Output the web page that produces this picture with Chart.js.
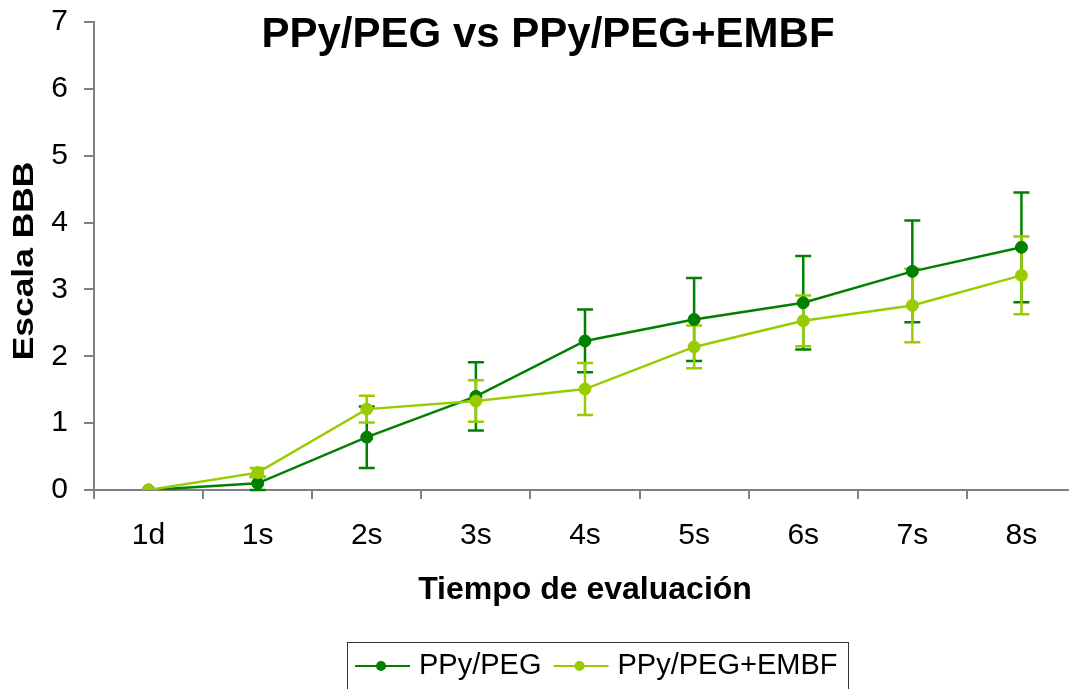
<!DOCTYPE html>
<html>
<head>
<meta charset="utf-8">
<script src="https://cdn.jsdelivr.net/npm/chart.js@4/dist/chart.umd.min.js"></script>
<style>
  html, body { margin: 0; padding: 0; background: #fff; overflow: hidden; }
  canvas { display: block; }
</style>
</head>
<body>
<canvas id="chart" width="1083" height="689"></canvas>
<script>
// data
const categories = ['1d', '1s', '2s', '3s', '4s', '5s', '6s', '7s', '8s'];
const pegValues = [0, 0.10, 0.79, 1.40, 2.23, 2.55, 2.80, 3.27, 3.63];
const pegErrors = [0, 0.10, 0.46, 0.51, 0.47, 0.62, 0.70, 0.76, 0.82];
const embfValues = [0, 0.26, 1.21, 1.33, 1.51, 2.14, 2.53, 2.76, 3.21];
const embfErrors = [0, 0.07, 0.20, 0.31, 0.39, 0.32, 0.38, 0.55, 0.58];
const yTicks = [0, 1, 2, 3, 4, 5, 6, 7];

const FONT = '"Liberation Sans", Arial, sans-serif';
const DARK = '#008000';
const LIGHT = '#99cc00';
const AXIS = '#808080';

Chart.defaults.font.family = FONT;
Chart.defaults.color = '#000';

// vertical error bars with caps, drawn under the lines
const errorBars = {
  id: 'errorBars',
  beforeDatasetsDraw(chart) {
    const ctx = chart.ctx;
    const xs = chart.scales.x, ys = chart.scales.y;
    chart.data.datasets.forEach(ds => {
      ctx.save();
      ctx.strokeStyle = ds.borderColor;
      ctx.lineWidth = 2.5;
      ds.errors.forEach((e, i) => {
        if (!e) return;
        const px = xs.getPixelForValue(i);
        const top = ys.getPixelForValue(ds.data[i] + e);
        const bot = ys.getPixelForValue(Math.max(ds.data[i] - e, 0));
        ctx.beginPath();
        ctx.moveTo(px, top); ctx.lineTo(px, bot);
        ctx.moveTo(px - 8, top); ctx.lineTo(px + 8, top);
        ctx.moveTo(px - 8, bot); ctx.lineTo(px + 8, bot);
        ctx.stroke();
      });
      ctx.restore();
    });
  }
};

// title over the plot, stretched y title and boxed legend at the bottom
const decorations = {
  id: 'decorations',
  afterDraw(chart) {
    const ctx = chart.ctx;
    const area = chart.chartArea;
    ctx.save();
    ctx.fillStyle = '#000';
    ctx.font = 'bold 42px ' + FONT;
    ctx.textAlign = 'center';
    ctx.textBaseline = 'alphabetic';
    ctx.fillText('PPy/PEG vs PPy/PEG+EMBF', 548, 47);

    ctx.save();
    ctx.translate(33, (area.top + area.bottom) / 2 + 5);
    ctx.rotate(-Math.PI / 2);
    ctx.scale(1.22, 1);
    ctx.font = 'bold 29px ' + FONT;
    ctx.fillText('Escala BBB', 0, 0);
    ctx.restore();

    ctx.strokeStyle = '#333';
    ctx.lineWidth = 1;
    ctx.strokeRect(347.5, 642.5, 501, 60);

    ctx.font = '29px ' + FONT;
    ctx.textAlign = 'left';
    ctx.textBaseline = 'middle';
    let x = 355;
    const cy = 666;
    chart.data.datasets.forEach(ds => {
      ctx.strokeStyle = ds.borderColor;
      ctx.lineWidth = 2;
      ctx.beginPath();
      ctx.moveTo(x, cy); ctx.lineTo(x + 55, cy);
      ctx.stroke();
      ctx.fillStyle = ds.borderColor;
      ctx.beginPath();
      ctx.arc(x + 26, cy, 5, 0, Math.PI * 2);
      ctx.fill();
      ctx.fillStyle = '#000';
      ctx.fillText(ds.label, x + 64, cy);
      x += 64 + ctx.measureText(ds.label).width + 12;
    });
    ctx.restore();
  }
};

new Chart(document.getElementById('chart'), {
  type: 'line',
  data: {
    labels: categories,
    datasets: [
      {
        label: 'PPy/PEG',
        data: pegValues,
        errors: pegErrors,
        borderColor: DARK,
        backgroundColor: DARK,
        pointBackgroundColor: DARK,
        pointBorderColor: DARK,
        borderWidth: 2.5,
        pointRadius: 6,
        pointBorderWidth: 1,
        order: 1
      },
      {
        label: 'PPy/PEG+EMBF',
        data: embfValues,
        errors: embfErrors,
        borderColor: LIGHT,
        backgroundColor: LIGHT,
        pointBackgroundColor: LIGHT,
        pointBorderColor: LIGHT,
        borderWidth: 2.5,
        pointRadius: 6,
        pointBorderWidth: 1,
        order: 0
      }
    ]
  },
  options: {
    responsive: false,
    animation: false,
    events: [],
    layout: { padding: { top: 22, right: 0, bottom: 79, left: 0 } },
    plugins: {
      legend: { display: false },
      tooltip: { enabled: false },
      title: { display: false }
    },
    scales: {
      x: {
        offset: true,
        grid: { offset: true, drawOnChartArea: false, drawTicks: true, tickLength: 9, color: AXIS, lineWidth: 2 },
        border: { color: AXIS, width: 2 },
        ticks: { font: { size: 30 }, color: '#000', padding: 19, maxRotation: 0 },
        title: { display: true, text: 'Tiempo de evaluación', font: { size: 32, weight: 'bold' }, color: '#000', padding: { top: 1, bottom: 1 } },
        afterFit(scale) {
          scale.height = 120;
          scale.paddingLeft = 0;
          scale.paddingRight = 0;
        }
      },
      y: {
        min: 0,
        max: 7,
        afterBuildTicks(scale) { scale.ticks = yTicks.map(v => ({ value: v })); },
        grid: { drawOnChartArea: false, drawTicks: true, tickLength: 10, color: AXIS, lineWidth: 2 },
        border: { color: AXIS, width: 2 },
        ticks: { font: { size: 30 }, color: '#000', padding: 16 },
        title: { display: false },
        afterFit(scale) {
          scale.width = 94;
          scale.paddingTop = 0;
          scale.paddingBottom = 0;
        }
      }
    }
  },
  plugins: [errorBars, decorations]
});
</script>
</body>
</html>
